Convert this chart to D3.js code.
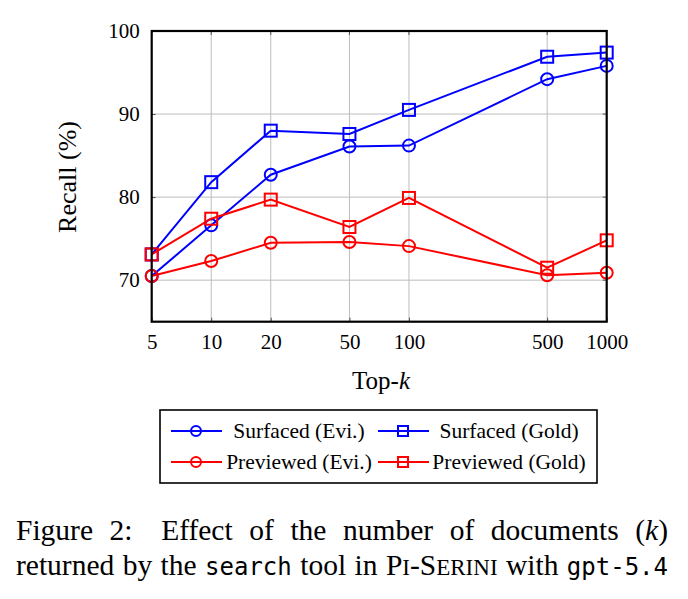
<!DOCTYPE html>
<html>
<head>
<meta charset="utf-8">
<script src="https://cdn.jsdelivr.net/npm/d3@7/dist/d3.min.js"></script>
<style>
  body { margin: 0; background: #fff; }
  svg text { font-family: "Liberation Serif", "Times New Roman", serif; fill: #000; }
</style>
</head>
<body>
<svg id="chart"></svg>
<script>
// data
var topK = [5, 10, 20, 50, 100, 500, 1000];
var surfacedEvi   = [70.5, 76.6, 82.7, 86.1, 86.2, 94.2, 95.8];
var surfacedGold  = [73.1, 81.8, 88.0, 87.6, 90.5, 96.9, 97.4];
var previewedEvi  = [70.5, 72.3, 74.5, 74.6, 74.1, 70.6, 70.9];
var previewedGold = [73.1, 77.4, 79.7, 76.4, 79.9, 71.5, 74.8];
var yTicks = [70, 80, 90, 100];
var seriesNames = ['Surfaced (Evi.)', 'Surfaced (Gold)', 'Previewed (Evi.)', 'Previewed (Gold)'];

(function () {
    var width = 688, height = 599;
    var svg = d3.select('#chart').attr('width', width).attr('height', height);

    var left = 151.7, right = 606.7, top = 31, bottom = 321.7;
    var x = d3.scaleLog().domain([5, 1000]).range([left, right]);
    var y = d3.scaleLinear().domain([65, 100]).range([bottom, top]);

    var series = [
        {name: seriesNames[0], values: surfacedEvi,   color: '#0000ff', mark: 'circle'},
        {name: seriesNames[1], values: surfacedGold,  color: '#0000ff', mark: 'square'},
        {name: seriesNames[2], values: previewedEvi,  color: '#ff0000', mark: 'circle'},
        {name: seriesNames[3], values: previewedGold, color: '#ff0000', mark: 'square'}
    ];

    // grid
    var grid = svg.append('g').attr('stroke', '#bdbdbd').attr('stroke-width', 1);
    grid.selectAll('.gx').data(topK.slice(1, -1)).enter().append('line')
        .attr('x1', d => x(d)).attr('x2', d => x(d)).attr('y1', top).attr('y2', bottom);
    grid.selectAll('.gy').data(yTicks.slice(0, -1)).enter().append('line')
        .attr('x1', left).attr('x2', right).attr('y1', d => y(d)).attr('y2', d => y(d));

    // axes
    var xAxis = svg.append('g').attr('transform', 'translate(0,' + bottom + ')')
        .call(d3.axisBottom(x).tickValues(topK).tickFormat(d3.format('d')).tickSize(-4).tickPadding(14));
    var yAxis = svg.append('g').attr('transform', 'translate(' + left + ',0)')
        .call(d3.axisLeft(y).tickValues(yTicks).tickSize(-4).tickPadding(12));
    [xAxis, yAxis].forEach(function (a) {
        a.select('.domain').remove();
        a.selectAll('.tick line').attr('stroke', '#555').attr('stroke-width', 1);
        a.selectAll('.tick text').attr('font-family', '"Liberation Serif", serif').attr('font-size', 21);
    });
    xAxis.selectAll('.tick text').attr('dy', '0.71em').attr('y', 12);
    // ticks on opposite sides
    svg.append('g').selectAll('line').data(topK).enter().append('line')
        .attr('x1', d => x(d)).attr('x2', d => x(d)).attr('y1', top).attr('y2', top + 4)
        .attr('stroke', '#555');
    svg.append('g').selectAll('line').data(yTicks).enter().append('line')
        .attr('x1', right - 4).attr('x2', right).attr('y1', d => y(d)).attr('y2', d => y(d))
        .attr('stroke', '#555');

    // lines + markers
    var line = d3.line().x((d, i) => x(topK[i])).y(d => y(d));
    function drawMark(g, type, color, r) {
        if (type === 'circle') {
            g.append('circle').attr('r', r).attr('fill', 'none').attr('stroke', color).attr('stroke-width', 2);
        } else {
            g.append('rect').attr('x', -r).attr('y', -r).attr('width', 2 * r).attr('height', 2 * r)
                .attr('fill', 'none').attr('stroke', color).attr('stroke-width', 2);
        }
    }
    series.forEach(function (s) {
        svg.append('path').datum(s.values).attr('d', line)
            .attr('fill', 'none').attr('stroke', s.color).attr('stroke-width', 2);
        svg.append('g').selectAll('g').data(s.values).enter().append('g')
            .attr('transform', (d, i) => 'translate(' + x(topK[i]) + ',' + y(d) + ')')
            .each(function () { drawMark(d3.select(this), s.mark, s.color, 6); });
    });

    // frame
    svg.append('rect').attr('x', left).attr('y', top).attr('width', right - left).attr('height', bottom - top)
        .attr('fill', 'none').attr('stroke', '#000').attr('stroke-width', 2.2);

    // axis labels
    var xl = svg.append('text').attr('x', 381).attr('y', 389).attr('text-anchor', 'middle').attr('font-size', 25);
    xl.append('tspan').text('Top-');
    xl.append('tspan').attr('font-style', 'italic').text('k');
    svg.append('text').attr('transform', 'translate(76,177) rotate(-90)')
        .attr('text-anchor', 'middle').attr('font-size', 26).text('Recall (%)');

    // legend
    svg.append('rect').attr('x', 160).attr('y', 410).attr('width', 437).attr('height', 73)
        .attr('fill', '#fff').attr('stroke', '#000').attr('stroke-width', 1.6);
    var cols = [{lx: 171, mx: 196, tx: 299}, {lx: 378, mx: 403, tx: 509}];
    var rows = [431, 462];
    series.forEach(function (s, i) {
        var c = cols[i % 2], r = rows[Math.floor(i / 2)];
        svg.append('line').attr('x1', c.lx).attr('x2', c.lx + 51).attr('y1', r).attr('y2', r)
            .attr('stroke', s.color).attr('stroke-width', 2);
        var g = svg.append('g').attr('transform', 'translate(' + c.mx + ',' + r + ')');
        drawMark(g, s.mark, s.color, 5);
        svg.append('text').attr('x', c.tx).attr('y', r + 7).attr('text-anchor', 'middle')
            .attr('font-size', 21.5).text(s.name);
    });

    // caption, justified between 16 and 668
    var serif = 29.5, mono = 24;
    var caption = [
        {y: 540, words: [[['Figure']], [['2:']], [['Effect']], [['of']], [['the']], [['number']], [['of']],
            [['documents']], [['('], ['k', 'it'], [')']]], extra: {1: 12}},
        {y: 575, words: [[['returned']], [['by']], [['the']], [['search', 'tt']], [['tool']], [['in']],
            [['P'], ['I', 'sc'], ['-'], ['S'], ['ERINI', 'sc']], [['with']], [['gpt-5.4', 'tt']]], extra: {}}
    ];
    caption.forEach(function (ln) {
        var nodes = ln.words.map(function (w) {
            var t = svg.append('text').attr('y', ln.y).attr('font-size', serif);
            w.forEach(function (p) {
                var sp = t.append('tspan').text(p[0]);
                if (p[1] === 'it') sp.attr('font-style', 'italic');
                if (p[1] === 'tt') sp.attr('font-family', '"DejaVu Sans Mono", monospace').attr('font-size', mono);
                if (p[1] === 'sc') sp.attr('font-size', serif * 0.78);
            });
            return t;
        });
        var widths = nodes.map(n => n.node().getComputedTextLength());
        var extraSum = d3.sum(Object.values(ln.extra));
        var gap = (668 - 16 - d3.sum(widths) - extraSum) / (nodes.length - 1);
        // if the words are too wide, squeeze the glyphs a bit instead of overlapping
        var minGap = serif * 0.22, squeeze = 1;
        if (gap < minGap) {
            squeeze = (668 - 16 - extraSum - minGap * (nodes.length - 1)) / d3.sum(widths);
            gap = minGap;
        }
        var cx = 16;
        nodes.forEach(function (n, i) {
            var w = widths[i] * squeeze;
            n.attr('x', cx);
            if (squeeze < 1) n.attr('textLength', w).attr('lengthAdjust', 'spacingAndGlyphs');
            cx += w + gap + (ln.extra[i] || 0);
        });
    });
})();
</script>
</body>
</html>
